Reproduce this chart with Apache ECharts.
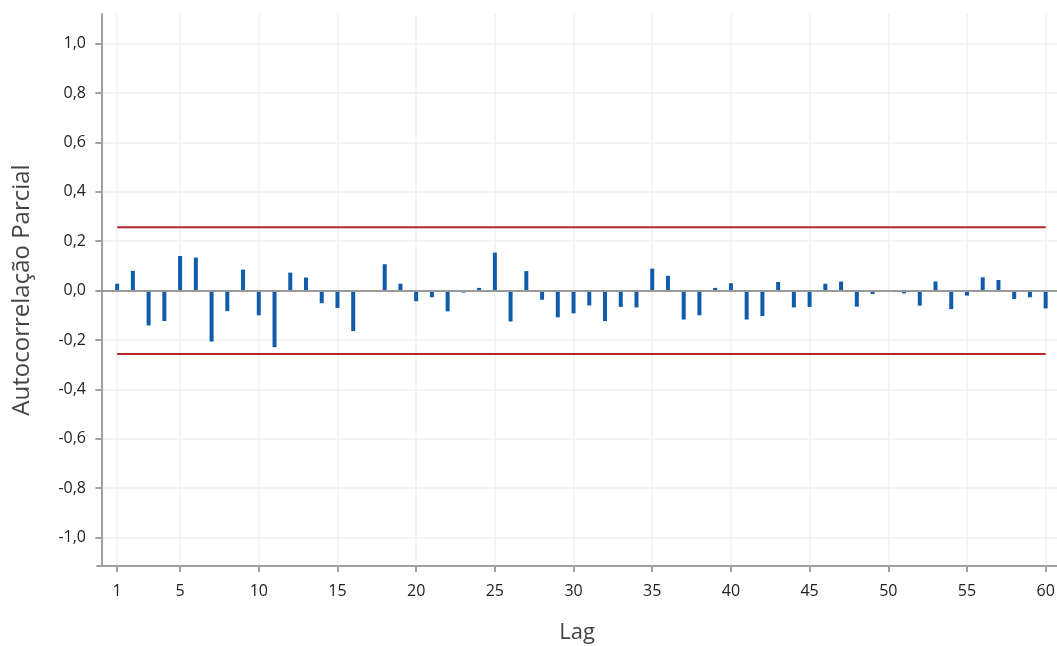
<!DOCTYPE html>
<html>
<head>
<meta charset="utf-8">
<script src="https://cdn.jsdelivr.net/npm/echarts@6/dist/echarts.min.js"></script>
<style>html,body{margin:0;padding:0;background:#fff;}#c{width:1057px;height:646px;}</style>
</head>
<body>
<div id="c"></div>
<script>
var lags = [1,2,3,4,5,6,7,8,9,10,11,12,13,14,15,16,17,18,19,20,21,22,23,24,25,26,27,28,29,30,31,32,33,34,35,36,37,38,39,40,41,42,43,44,45,46,47,48,49,50,51,52,53,54,55,56,57,58,59,60];
var pacf = [0.028,0.080,-0.141,-0.123,0.140,0.134,-0.206,-0.083,0.085,-0.100,
            -0.229,0.073,0.053,-0.051,-0.070,-0.164,0.002,0.107,0.028,-0.043,
            -0.027,-0.084,-0.008,0.011,0.154,-0.125,0.079,-0.037,-0.108,-0.092,
            -0.060,-0.123,-0.066,-0.068,0.089,0.060,-0.117,-0.100,0.011,0.030,
            -0.117,-0.103,0.035,-0.068,-0.066,0.028,0.037,-0.065,-0.014,-0.004,
            -0.011,-0.061,0.037,-0.075,-0.020,0.054,0.043,-0.034,-0.027,-0.072];
var limit = 0.257;
var xTicks = [1,5,10,15,20,25,30,35,40,45,50,55,60];
var yTicks = [-1.0,-0.8,-0.6,-0.4,-0.2,0.0,0.2,0.4,0.6,0.8,1.0];

var chart = echarts.init(document.getElementById('c'));
var fmt = function(v){ return v.toFixed(1).replace('.', ','); };
var labelFont = {fontFamily:'Open Sans', fontSize:16, color:'#222', fontWeight:500};
chart.setOption({
  animation:false,
  grid:{left:97, right:0, top:14, bottom:80, containLabel:false, outerBoundsMode:'none'},
  xAxis:[{
    type:'value', min:-0.28, max:60.72,
    name:'Lag', nameLocation:'middle', nameGap:56,
    nameTextStyle:{fontFamily:'Open Sans', fontSize:22, color:'#444'},
    axisLine:{show:true, onZero:false, lineStyle:{color:'#a0a0a0', width:2}},
    axisTick:{show:true, length:6, customValues:xTicks, lineStyle:{color:'#a0a0a0', width:2}},
    axisLabel:Object.assign({margin:17, customValues:xTicks, formatter:function(v){return String(v);}}, labelFont),
    splitLine:{show:true, lineStyle:{color:'#f0f0f0', width:1.5}}
  },{
    type:'value', position:'top', min:-0.28, max:60.72,
    axisLine:{show:true, lineStyle:{color:'#a0a0a0', width:2}},
    axisTick:{show:false}, axisLabel:{show:false}, splitLine:{show:false}
  }],
  yAxis:{
    type:'value', min:-1.115, max:1.12,
    name:'Autocorrelação Parcial', nameLocation:'middle', nameGap:63,
    nameTextStyle:{fontFamily:'Open Sans', fontSize:24, color:'#444'},
    axisLine:{show:true, lineStyle:{color:'#a0a0a0', width:2}},
    axisTick:{show:true, length:6, customValues:yTicks, lineStyle:{color:'#a0a0a0', width:2}},
    axisLabel:Object.assign({margin:11, customValues:yTicks, formatter:fmt}, labelFont),
    splitLine:{show:true, lineStyle:{color:'#f0f0f0', width:1.5}}
  },
  series:[{
    type:'bar', barWidth:4,
    itemStyle:{color:'#0f5cab'},
    data: lags.map(function(l,i){ return [l, pacf[i]]; }),
    markLine:{silent:true, symbol:'none', label:{show:false},
      lineStyle:{color:'#9a9a9a', width:2, type:'solid'},
      data:[{yAxis:0}]}
  },{
    type:'line', symbol:'none', lineStyle:{color:'#b0282c', width:2},
    data:[[lags[0], limit],[lags[lags.length-1], limit]]
  },{
    type:'line', symbol:'none', lineStyle:{color:'#b0282c', width:2},
    data:[[lags[0], -limit],[lags[lags.length-1], -limit]]
  }]
});
</script>
</body>
</html>
